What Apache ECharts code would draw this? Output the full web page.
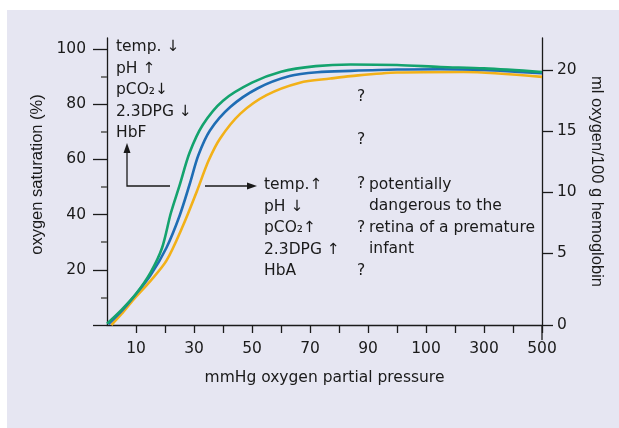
<!DOCTYPE html>
<html>
<head>
<meta charset="utf-8">
<script src="https://cdn.jsdelivr.net/npm/echarts@6/dist/echarts.min.js"></script>
<style>
  html, body { margin: 0; padding: 0; background: #fff; }
  #chart { width: 619px; height: 428px; }
</style>
</head>
<body>
<div id="chart"></div>
<script>
  // x values are positions on the (non-linear) pressure axis: one step per tick
  const xTickLabels = ['', '10', '', '30', '', '50', '', '70', '', '90', '', '100', '', '300', '', '500'];
  const satTicks = [0, 20, 40, 60, 80, 100];
  const satMinorTicks = [10, 30, 50, 70, 90];
  const mlTicks = [5, 10, 15, 20];

  // curve shifted left (temp down, pH up ... HbF)
  const greenX = [0, 0.5, 1.0, 1.5, 1.9, 2.2, 2.5, 2.85, 3.3, 4.0, 5.0, 6.0, 7.2, 8.4, 10, 11.5, 13, 15];
  const greenY = [0.5, 5.5, 11.3, 19, 28, 40.5, 50.5, 62.5, 72.5, 81.3, 87.8, 91.8, 93.8, 94.4, 94.2, 93.5, 93, 91.7];
  // normal curve
  const blueX = [0.05, 0.5, 0.9, 1.5, 2.05, 2.5, 2.85, 3.15, 3.55, 4.25, 5.2, 6.3, 7.25, 8.4, 10, 11.5, 13, 15];
  const blueY = [0.3, 5, 9.9, 18, 28, 39.5, 51, 61.5, 70.5, 79, 85.8, 90.2, 91.6, 92.1, 92.6, 92.7, 92.4, 91.2];
  // curve shifted right (temp up, pH down ... HbA)
  const orangeX = [0.15, 0.5, 0.92, 1.5, 2.05, 2.6, 3.1, 3.5, 3.9, 4.6, 5.5, 6.65, 7.7, 8.4, 10, 12.3, 15];
  const orangeY = [0, 4, 9.3, 16, 23.3, 35.5, 48.5, 59.5, 67.6, 76.6, 83.3, 87.8, 89.3, 90.2, 91.5, 91.7, 89.9];

  const leftNotes = ['temp. ↓', 'pH ↑', 'pCO₂↓', '2.3DPG ↓', 'HbF'];
  const rightNotes = ['temp.↑', 'pH ↓', 'pCO₂↑', '2.3DPG ↑', 'HbA'];
  const retinaNote = ['potentially', 'dangerous to the', 'retina of a premature', 'infant'];

  const pairs = (xs, ys) => xs.map((x, i) => [x, ys[i]]);
  const ink = '#1a1a1a';
  const txtFont = 'DejaVu Sans';
  const vertFont = 'Liberation Sans';

  const myChart = echarts.init(document.getElementById('chart'));

  function textEl(str, x, y, align) {
    return {
      type: 'text', z: 10,
      style: {text: str, x: x, y: y, fill: ink, fontSize: 15.5, fontFamily: txtFont,
        align: align || 'left', verticalAlign: 'middle'}
    };
  }

  const graphics = [
    {type: 'rect', z: -10, shape: {x: 7, y: 10, width: 612, height: 418}, style: {fill: '#e6e6f2'}},
    // right axis runs a little past the x axis
    {type: 'line', z: 5, shape: {x1: 542, y1: 325, x2: 542, y2: 340}, style: {stroke: ink, lineWidth: 1.3}},
    // arrows
    {type: 'polyline', z: 5, shape: {points: [[170, 186], [127, 186], [127, 152]]}, style: {stroke: ink, lineWidth: 1.3, fill: null}},
    {type: 'polygon', z: 5, shape: {points: [[127, 143], [123.5, 153], [130.5, 153]]}, style: {fill: ink}},
    {type: 'line', z: 5, shape: {x1: 205, y1: 186, x2: 249, y2: 186}, style: {stroke: ink, lineWidth: 1.3}},
    {type: 'polygon', z: 5, shape: {points: [[257, 186], [247, 182.5], [247, 189.5]]}, style: {fill: ink}}
  ];
  leftNotes.forEach((s, i) => graphics.push(textEl(s, 116, 47 + i * 21.5)));
  rightNotes.forEach((s, i) => graphics.push(textEl(s, 264, 185 + i * 21.6)));
  retinaNote.forEach((s, i) => graphics.push(textEl(s, 369, 185 + i * 21.3)));
  [97, 140, 184, 228, 271].forEach(y => graphics.push(textEl('?', 361, y, 'center')));

  const lineSeries = (name, color, xs, ys) => ({
    name: name, type: 'line', smooth: 0.3, showSymbol: false,
    lineStyle: {color: color, width: 2.6}, data: pairs(xs, ys)
  });

  myChart.setOption({
    animation: false,
    backgroundColor: '#ffffff',
    grid: {left: 107, right: 77, top: 38, bottom: 103},
    xAxis: {
      type: 'value', min: 0, max: 15, interval: 1,
      splitLine: {show: false},
      axisLine: {lineStyle: {color: ink, width: 1.3}},
      axisTick: {length: 8, lineStyle: {color: ink, width: 1.3}, customValues: [1, 2, 3, 4, 5, 6, 7, 8, 9, 10, 11, 12, 13, 14, 15]},
      axisLabel: {
        color: ink, fontSize: 15.5, fontFamily: txtFont, margin: 16,
        customValues: [1, 3, 5, 7, 9, 11, 13, 15],
        formatter: v => xTickLabels[Math.round(v)]
      },
      name: 'mmHg oxygen partial pressure', nameLocation: 'middle', nameGap: 45,
      nameTextStyle: {color: ink, fontSize: 15.5, fontFamily: txtFont}
    },
    yAxis: [
      {
        type: 'value', position: 'left', min: 0, max: 104,
        splitLine: {show: false},
        axisLine: {show: true, lineStyle: {color: ink, width: 1.3}},
        axisTick: {length: 14, lineStyle: {color: ink, width: 1.3}, customValues: satTicks},
        axisLabel: {color: ink, fontSize: 15.5, fontFamily: txtFont, margin: 21, customValues: satTicks.slice(1)},
        name: 'oxygen saturation (%)', nameLocation: 'middle', nameGap: 53,
        nameTextStyle: {color: ink, fontSize: 16.5, fontFamily: vertFont, padding: [0, 0, 0, 14]}
      },
      {
        type: 'value', position: 'right', min: -0.9, max: 22.62,
        splitLine: {show: false},
        axisLine: {show: true, lineStyle: {color: ink, width: 1.3}},
        axisTick: {length: 11, lineStyle: {color: ink, width: 1.3}, customValues: [-0.9].concat(mlTicks)},
        axisLabel: {
          color: ink, fontSize: 15.5, fontFamily: txtFont, margin: 15,
          customValues: [-0.9].concat(mlTicks), formatter: v => (v < 0 ? '0' : String(v))
        },
        name: 'ml oxygen/100 g hemoglobin', nameLocation: 'middle', nameGap: 44, nameRotate: -90,
        nameTextStyle: {color: ink, fontSize: 16.5, fontFamily: vertFont}
      },
      {
        // minor ticks of the saturation axis
        type: 'value', position: 'left', min: 0, max: 104,
        splitLine: {show: false},
        axisLine: {show: false},
        axisTick: {show: true, length: 6, lineStyle: {color: '#6a6a6a', width: 1.8}, customValues: satMinorTicks},
        axisLabel: {show: false}
      }
    ],
    series: [
      lineSeries('HbA', '#f2b118', orangeX, orangeY),
      lineSeries('normal', '#1f6db4', blueX, blueY),
      lineSeries('HbF', '#14a36e', greenX, greenY)
    ],
    graphic: graphics
  });
</script>
</body>
</html>
